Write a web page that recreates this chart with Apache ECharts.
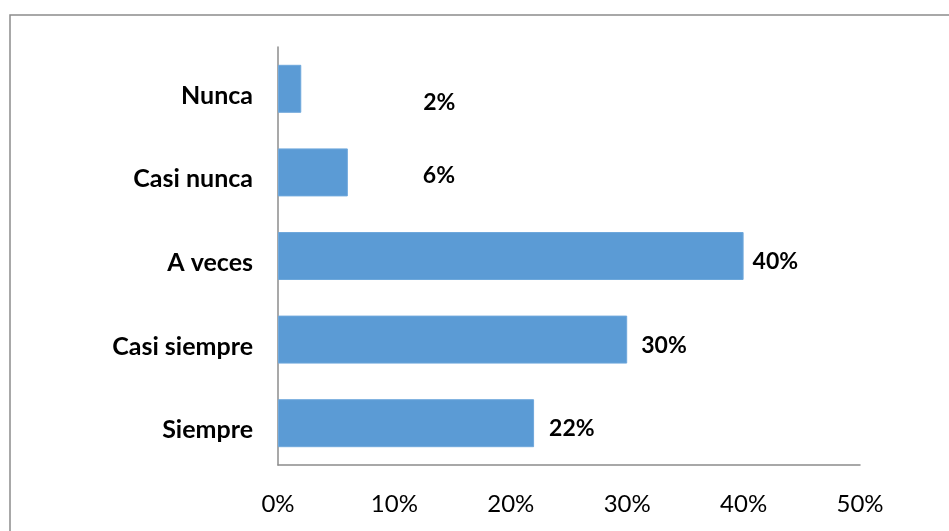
<!DOCTYPE html>
<html>
<head>
<meta charset="utf-8">
<script src="https://cdn.jsdelivr.net/npm/echarts@6/dist/echarts.min.js"></script>
<style>
  html, body { margin: 0; padding: 0; background: #fff; }
  #chart { width: 949px; height: 531px; }
</style>
</head>
<body>
<div id="chart"></div>
<script>
// Responses, listed bottom to top as drawn on the category axis
const categories = ['Siempre', 'Casi siempre', 'A veces', 'Casi nunca', 'Nunca'];
const percentages = [22, 30, 40, 6, 2];
const valueTicks = [0, 10, 20, 30, 40, 50];

// Where each value label sits relative to the end of its bar
const labelOffsets = [[15, 5], [14, 6], [9, 6], [75, 3], [122, 14]];

const chart = echarts.init(document.getElementById('chart'));

const barData = percentages.map((v, i) => ({
  value: v,
  label: { offset: labelOffsets[i] }
}));

chart.setOption({
  animation: false,
  textStyle: { fontFamily: 'Lato' },
  graphic: [{
    type: 'rect',
    shape: { x: 10, y: 15, width: 1000, height: 600 },
    style: { fill: 'none', stroke: '#8c8c8c', lineWidth: 1.5 },
    silent: true
  }],
  grid: { left: 278, right: 89, top: 47, bottom: 66 },
  xAxis: {
    type: 'value',
    min: valueTicks[0],
    max: valueTicks[valueTicks.length - 1],
    interval: 10,
    axisLine: { show: true, lineStyle: { color: '#8c8c8c', width: 1.5 } },
    axisTick: { show: false },
    splitLine: { show: false },
    axisLabel: {
      formatter: '{value}%',
      color: '#000',
      fontFamily: 'Lato',
      fontSize: 24,
      margin: 27
    }
  },
  yAxis: {
    type: 'category',
    data: categories,
    axisLine: { show: true, lineStyle: { color: '#8c8c8c', width: 1.5 } },
    axisTick: { show: false },
    axisLabel: {
      color: '#000',
      fontFamily: 'Lato',
      fontWeight: 'bold',
      fontSize: 25,
      margin: 25,
      verticalAlign: 'top',
      lineHeight: 14
    }
  },
  series: [{
    type: 'bar',
    data: barData,
    barCategoryGap: '42.6%',
    itemStyle: { color: '#5b9bd5', borderColor: '#6fa8dc', borderWidth: 1 },
    label: {
      show: true,
      position: 'right',
      distance: 0,
      formatter: '{c}%',
      color: '#000',
      fontFamily: 'Lato',
      fontWeight: 'bold',
      fontSize: 23
    }
  }]
});
</script>
</body>
</html>
